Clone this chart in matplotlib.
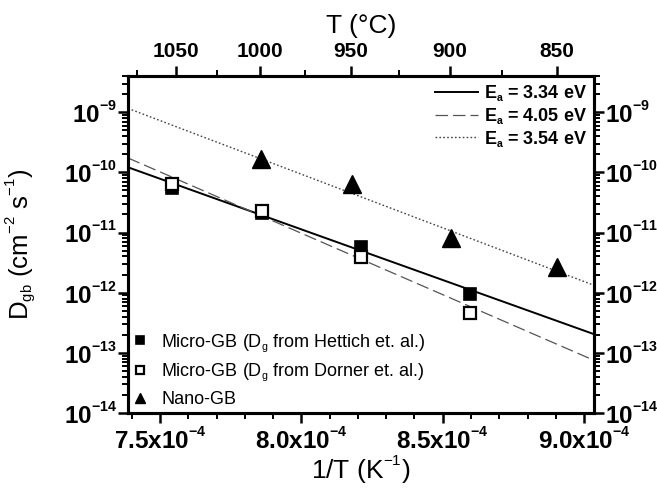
import numpy as np
import matplotlib
matplotlib.use("Agg")
import matplotlib.pyplot as plt
import matplotlib._mathtext as _mt
from matplotlib.ticker import FixedLocator, MultipleLocator, LogLocator, NullFormatter, FuncFormatter

plt.rcParams['font.family'] = ['Liberation Sans', 'DejaVu Sans']
plt.rcParams['mathtext.fontset'] = 'custom'
plt.rcParams['mathtext.rm'] = 'Liberation Sans'
plt.rcParams['mathtext.it'] = 'Liberation Sans:italic'
plt.rcParams['mathtext.bf'] = 'Liberation Sans:bold'
_mt.SHRINK_FACTOR = 0.58  # smaller superscripts, as in the reference
_mt.FontConstantsBase.sup1 = 0.95  # raise superscripts a little more

# ---- data ----
x_hettich = [7.541e-4, 7.861e-4, 8.210e-4, 8.597e-4]
d_hettich = [5.4e-11, 2.1e-11, 5.8e-12, 9.4e-13]
x_dorner = [7.541e-4, 7.861e-4, 8.210e-4, 8.597e-4]
d_dorner = [6.3e-11, 2.3e-11, 3.9e-12, 4.6e-13]
x_nano = [7.857e-4, 8.178e-4, 8.528e-4, 8.903e-4]
d_nano = [1.66e-10, 6.3e-11, 8.0e-12, 2.65e-12]

# Arrhenius fit lines: activation energy (eV) and value at 1/T = 8.2e-4
fit_ea = [3.34, 4.05, 3.54]
fit_anchor_x = 8.2e-4
fit_anchor_d = [5.2e-12, 3.8e-12, 4.1e-11]
fit_labels = [r'$\mathbf{E_a}$ = 3.34 eV', r'$\mathbf{E_a}$ = 4.05 eV', r'$\mathbf{E_a}$ = 3.54 eV']

top_temps = [1050, 1000, 950, 900, 850]
top_minor_temps = [1075, 1025, 975, 925, 875]
x_major = [7.5e-4, 8.0e-4, 8.5e-4, 9.0e-4]
x_labels = ['7.5', '8.0', '8.5', '9.0']
xlim = (7.387e-4, 9.035e-4)
ylim = (1e-14, 4.0e-9)
k_B = 8.617e-5

fig = plt.figure(figsize=(6.57, 4.92), dpi=100)
ax = fig.add_axes([128/657, 1-413/492, 466/657, 337/492])

xs = np.array(xlim)
styles = [dict(color='black', lw=1.4, ls='-'),
          dict(color='#555555', lw=0.9, ls=(0, (10, 4))),
          dict(color='#444444', lw=1.0, ls=(0, (1.2, 1.6)))]
line_handles = []
for ea, d0, st, lab in zip(fit_ea, fit_anchor_d, styles, fit_labels):
    ys = d0 * np.exp(-ea / k_B * (xs - fit_anchor_x))
    h, = ax.plot(xs, ys, label=lab, **st)
    line_handles.append(h)

hm1, = ax.plot(x_hettich, d_hettich, 's', color='black', ms=8.5, mec='black', mew=1.2, ls='none', zorder=3)
hm2, = ax.plot(x_dorner, d_dorner, 's', mfc='white', mec='black', ms=8.5, mew=1.6, ls='none', zorder=4)
hm3, = ax.plot(x_nano, d_nano, '^', color='black', ms=12.5, ls='none', zorder=3)

ax.set_yscale('log')
ax.set_xlim(*xlim)
ax.set_ylim(*ylim)

ax.xaxis.set_major_locator(FixedLocator(x_major))
ax.xaxis.set_minor_locator(MultipleLocator(1e-5))
ax.set_xticklabels([r'$\mathbf{%s x 10^{-4}}$' % s for s in x_labels])
ax.yaxis.set_major_locator(LogLocator(base=10, numticks=20))
ax.yaxis.set_minor_locator(LogLocator(base=10, subs=np.arange(2, 10), numticks=20))
ax.yaxis.set_minor_formatter(NullFormatter())
ax.yaxis.set_major_formatter(FuncFormatter(lambda v, p: r'$\mathbf{10^{%d}}$' % int(round(np.log10(v)))))

for s in ax.spines.values():
    s.set_linewidth(2.2)
ax.tick_params(axis='both', which='major', direction='out', length=7, width=1.8)
ax.tick_params(axis='both', which='minor', direction='out', length=4, width=1.4)
ax.tick_params(axis='x', which='major', labelsize=17.5, pad=3)
ax.tick_params(axis='y', which='major', labelsize=17.5, pad=1)
ax.tick_params(axis='y', which='both', left=True, right=True, labelleft=True, labelright=True)
ax.tick_params(axis='x', which='both', top=False, bottom=True)

ax.set_xlabel(r'1/T (K$^{-1}$)', fontsize=19)
ax.xaxis.set_label_coords(0.5, -0.118)
ax.set_ylabel(r'D$_{\mathrm{gb}}$ (cm$^{-2}$ s$^{-1}$)', fontsize=18.5)
ax.yaxis.set_label_coords(-0.192, 0.5)

# top temperature axis
ax2 = ax.twiny()
ax2.set_xlim(*xlim)
ax2.set_xticks([1.0 / (t + 273.15) for t in top_temps])
ax2.set_xticklabels([str(t) for t in top_temps], fontweight='bold', fontsize=15)
ax2.set_xticks([1.0 / (t + 273.15) for t in top_minor_temps], minor=True)
ax2.tick_params(axis='x', which='major', direction='out', length=7, width=1.8, pad=4)
ax2.tick_params(axis='x', which='minor', direction='out', length=4, width=1.4)
ax2.set_xlabel('T (°C)', fontsize=19, labelpad=6)
for s in ax2.spines.values():
    s.set_linewidth(2.2)

leg1 = ax.legend(handles=line_handles, loc='upper right', frameon=False,
                 prop={'weight': 'bold', 'size': 13}, handlelength=2.4,
                 labelspacing=0.15, borderaxespad=0.0, handletextpad=0.3)
ax.add_artist(leg1)
mk_labels = [r'Micro-GB (D$_{\mathrm{g}}$ from Hettich et. al.)',
             r'Micro-GB (D$_{\mathrm{g}}$ from Dorner et. al.)',
             'Nano-GB']
ax.legend(handles=[hm1, hm2, hm3], labels=mk_labels, loc='lower left', frameon=False,
          fontsize=13, markerscale=0.6, labelspacing=0.45, borderaxespad=0.0,
          borderpad=0.25, handletextpad=0.8, handlelength=0.8)

fig.savefig('out.png', dpi=100)
